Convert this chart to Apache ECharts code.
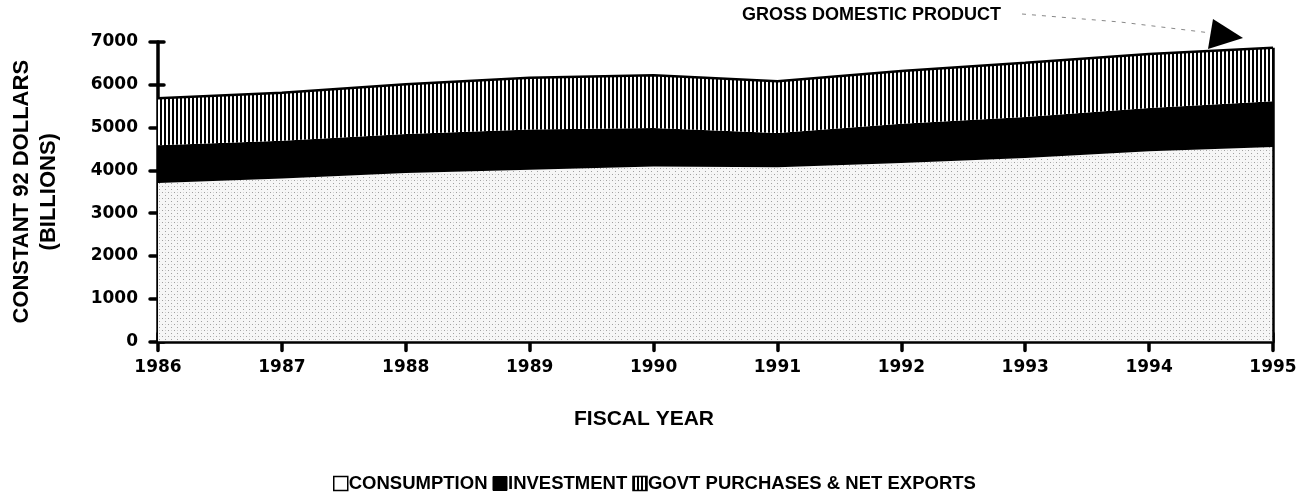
<!DOCTYPE html>
<html>
<head>
<meta charset="utf-8">
<script src="https://cdn.jsdelivr.net/npm/echarts@6/dist/echarts.min.js"></script>
<style>
html,body{margin:0;padding:0;background:#fff;}
#chart{width:1316px;height:501px;}
</style>
</head>
<body>
<div id="chart"></div>
<script>
// ---- data (constant 1992 dollars, billions) ----
const years = ['1986','1987','1988','1989','1990','1991','1992','1993','1994','1995'];
const consumption = [3705, 3810, 3940, 4016, 4090, 4075, 4170, 4290, 4445, 4548];
const investment = [880, 880, 910, 937, 900, 801, 920, 960, 1015, 1068];
const govtNetExports = [1101, 1123, 1165, 1211, 1235, 1209, 1230, 1265, 1260, 1250];
const yMin = 0, yMax = 7000, yStep = 1000;
const seriesNames = ['CONSUMPTION', 'INVESTMENT', 'GOVT PURCHASES & NET EXPORTS'];
const annotation = 'GROSS DOMESTIC PRODUCT';
const xTitle = 'FISCAL YEAR';
const yTitle = 'CONSTANT 92 DOLLARS\n(BILLIONS)';

// ---- fill patterns ----
function makeStipple() {
  const c = document.createElement('canvas');
  c.width = 6; c.height = 6;
  const g = c.getContext('2d');
  g.fillStyle = '#f6f6f6'; g.fillRect(0, 0, 6, 6);
  g.fillStyle = '#a0a0a0';
  g.fillRect(0, 0, 1, 1); g.fillRect(3, 3, 1, 1);
  g.fillStyle = '#d0d0d0';
  g.fillRect(3, 0, 1, 1);
  return c;
}
function makeStripes() {
  const c = document.createElement('canvas');
  c.width = 4; c.height = 4;
  const g = c.getContext('2d');
  g.fillStyle = '#ffffff'; g.fillRect(0, 0, 4, 4);
  g.fillStyle = '#000000'; g.fillRect(0, 0, 2, 4);
  return c;
}
const stipple = { image: makeStipple(), repeat: 'repeat' };
const stripes = { image: makeStripes(), repeat: 'repeat' };

const lastIdx = years.length - 1;
const lastTotal = consumption[lastIdx] + investment[lastIdx] + govtNetExports[lastIdx];

const chart = echarts.init(document.getElementById('chart'), null, { renderer: 'canvas' });
const tickFont = { fontFamily: 'DejaVu Sans', fontWeight: 'bold', fontSize: 17, color: '#000' };

const option = {
  animation: false,
  backgroundColor: '#fff',
  grid: { left: 157, right: 43, top: 42, bottom: 159.5, containLabel: false },
  xAxis: [
    {
      type: 'category', data: years, boundaryGap: false, position: 'bottom',
      axisLine: { show: true, lineStyle: { color: '#000', width: 3.5 } },
      axisTick: { show: true, inside: false, length: 9, alignWithLabel: true, lineStyle: { color: '#000', width: 3.5, cap: 'round' } },
      axisLabel: Object.assign({ margin: 18, interval: 0 }, tickFont),
      splitLine: { show: false }
    },
    {
      type: 'category', data: years, boundaryGap: false, position: 'bottom',
      axisLine: { show: false },
      axisTick: { show: true, inside: true, length: 8, lineStyle: { color: '#000', width: 3.5, cap: 'round' } },
      axisLabel: { show: false },
      splitLine: { show: false }
    }
  ],
  yAxis: [
    {
      type: 'value', min: yMin, max: yMax, interval: yStep, position: 'left',
      axisLine: { show: true, lineStyle: { color: '#000', width: 3.5, cap: 'round' } },
      axisTick: { show: true, inside: false, length: 8, lineStyle: { color: '#000', width: 3.5, cap: 'round' } },
      axisLabel: Object.assign({ margin: 20, formatter: function (v) { return String(v); } }, tickFont),
      splitLine: { show: false },
      name: yTitle, nameLocation: 'middle', nameRotate: 90, nameGap: 96,
      nameTextStyle: { fontFamily: 'Liberation Sans', fontWeight: 'bold', fontSize: 22, lineHeight: 27, color: '#000', align: 'center' }
    },
    {
      type: 'value', min: yMin, max: yMax, interval: yStep, position: 'left',
      axisLine: { show: false },
      axisTick: { show: true, inside: true, length: 6, lineStyle: { color: '#000', width: 3.5, cap: 'round' } },
      axisLabel: { show: false },
      splitLine: { show: false }
    }
  ],
  legend: {
    bottom: 3, left: 328,
    itemWidth: 14, itemHeight: 14, itemGap: 5,
    textStyle: { fontFamily: 'Liberation Sans', fontWeight: 'bold', fontSize: 18.5, color: '#000', padding: [0, 0, 0, -4] },
    data: [
      { name: seriesNames[0], icon: 'rect', itemStyle: { color: '#fff', borderColor: '#000', borderWidth: 1.5 } },
      { name: seriesNames[1], icon: 'rect', itemStyle: { color: '#000', borderColor: '#000', borderWidth: 1 } },
      { name: seriesNames[2], icon: 'rect', itemStyle: { color: stripes, borderColor: '#000', borderWidth: 1.5 } }
    ]
  },
  series: [
    {
      name: seriesNames[0], type: 'line', stack: 'gdp', data: consumption,
      symbol: 'none', lineStyle: { width: 0 },
      areaStyle: { color: stipple, opacity: 1 },
      itemStyle: { color: '#fff' }
    },
    {
      name: seriesNames[1], type: 'line', stack: 'gdp', data: investment,
      symbol: 'none', lineStyle: { width: 0 },
      areaStyle: { color: '#000', opacity: 1 },
      itemStyle: { color: '#000' }
    },
    {
      name: seriesNames[2], type: 'line', stack: 'gdp', data: govtNetExports,
      symbol: 'none', lineStyle: { width: 2.5, color: '#000' },
      areaStyle: { color: stripes, opacity: 1 },
      itemStyle: { color: '#000' },
      markLine: {
        silent: true, symbol: ['none', 'none'], label: { show: false },
        lineStyle: { color: '#000', width: 2.5, type: 'solid' },
        data: [[ { coord: [years[lastIdx], yMin] }, { coord: [years[lastIdx], lastTotal] } ]]
      }
    }
  ],
  graphic: [
    {
      type: 'text', left: 742, top: 6,
      style: { text: annotation, fontFamily: 'Liberation Sans', fontWeight: 'bold', fontSize: 18, fill: '#000' }
    },
    {
      type: 'polyline',
      shape: { points: [[1022, 14], [1120, 22], [1211, 33]] },
      style: { stroke: '#888', lineWidth: 1, lineDash: [4, 6], fill: null }
    },
    {
      type: 'polygon',
      shape: { points: [[1213, 19], [1243, 38], [1208, 49]] },
      style: { fill: '#000' }
    },
    {
      type: 'text', left: 574, top: 409,
      style: { text: xTitle, fontFamily: 'Liberation Sans', fontWeight: 'bold', fontSize: 21, fill: '#000' }
    }
  ]
};
chart.setOption(option);
</script>
</body>
</html>
